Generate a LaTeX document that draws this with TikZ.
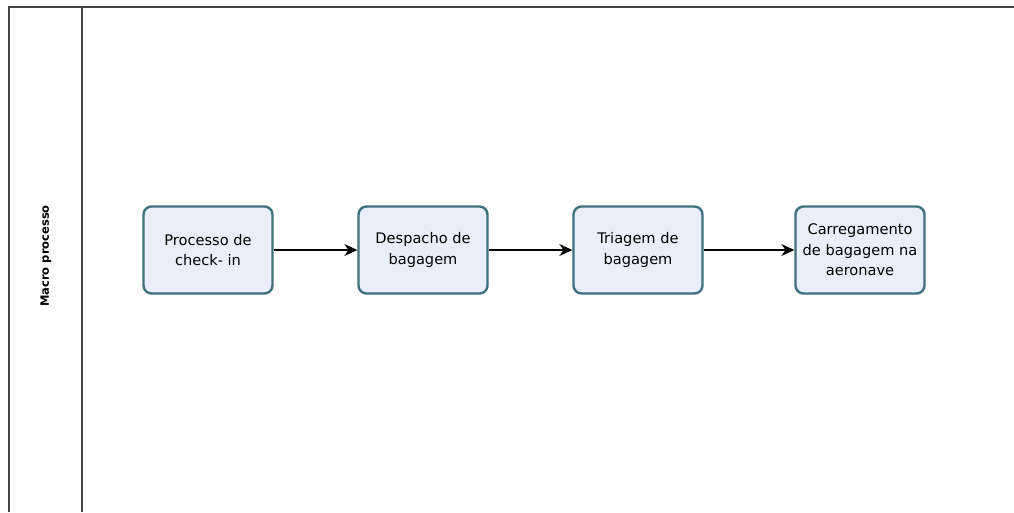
\documentclass[tikz,border=0pt]{standalone}
\usepackage{fontspec}
\setmainfont{DejaVu Sans}
\usetikzlibrary{arrows.meta}
\definecolor{boxfill}{HTML}{E9EFFA}
\definecolor{boxline}{HTML}{3F6F80}
\definecolor{frameline}{HTML}{444444}
\tikzset{
  task/.style={draw=boxline, fill=boxfill, line width=2.4pt, rounded corners=8pt,
    minimum width=129pt, minimum height=87pt, align=center, inner sep=2pt,
    font=\fontsize{14.6}{20.5}\selectfont},
  flow/.style={draw=black, line width=1.3pt, -{Stealth[length=13pt,width=12pt]}},
  frame/.style={draw=frameline, line width=1.7pt}
}
\begin{document}
\begin{tikzpicture}[x=1pt,y=-1pt]
\useasboundingbox (0,0) rectangle (1014,512);
% pool frame with lane header
\coordinate (tl) at (9,7);
\coordinate (tr) at (1014,7);
\coordinate (bl) at (9,512);
\coordinate (dt) at (82,7);
\coordinate (db) at (82,512);
\draw[frame] (bl) -- (tl) -- (tr);
\draw[frame] (dt) -- (db);
\node[rotate=90, font=\bfseries\fontsize{11.5}{13}\selectfont] (lane) at (46,256) {Macro processo};
% tasks
\node[task] (t1) at (208,250) {Processo de\\check- in};
\node[task] (t2) at (423,250) {Despacho de\\bagagem};
\node[task] (t3) at (638,250) {Triagem de\\bagagem};
\node[task] (t4) at (860,250) {Carregamento\\de bagagem na\\aeronave};
% sequence flows
\draw[flow] (t1) -- (t2);
\draw[flow] (t2) -- (t3);
\draw[flow] (t3) -- (t4);
\end{tikzpicture}
\end{document}
